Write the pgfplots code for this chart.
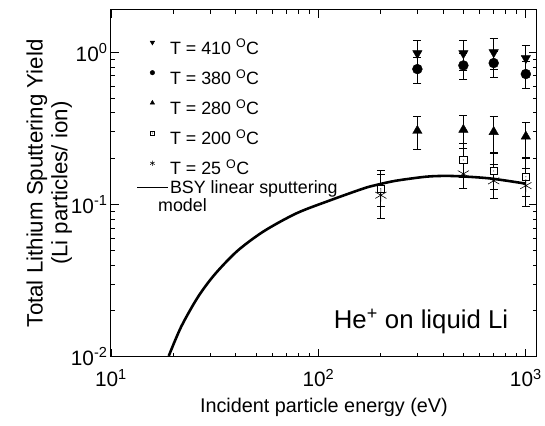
\documentclass[border=0pt]{standalone}
\usepackage{pgfplots}
\pgfplotsset{compat=1.18}
\usepackage{fontspec}
\setmainfont{Liberation Sans}
\newcommand{\ls}{\rule[-9pt]{0pt}{34pt}}
\pgfdeclareplotmark{sqdot}{%
  \pgfpathrectangle{\pgfpoint{-\pgfplotmarksize}{-\pgfplotmarksize}}{\pgfpoint{2\pgfplotmarksize}{2\pgfplotmarksize}}%
  \pgfusepathqfillstroke
  \begin{pgfscope}%
  \pgfsetfillcolor{black}%
  \pgfpathcircle{\pgfpointorigin}{0.5pt}%
  \pgfusepathqfill
  \end{pgfscope}%
}
\pgfplotsset{myerr/.style={error bars/.cd, y dir=both, y explicit,
    error bar style={line width=1pt, black},
    error mark options={rotate=90, line width=1pt, mark size=4pt, black}}}
\pgfplotstableread{
x y ep em
300 0.985 0.22 0.22
500 0.985 0.22 0.22
700 1.00 0.23 0.23
1000 0.915 0.20 0.20
}\tfourten
\pgfplotstableread{
x y ep em
300 0.776 0.15 0.15
500 0.82 0.16 0.16
700 0.85 0.17 0.17
1000 0.72 0.145 0.145
}\tthreeeighty
\pgfplotstableread{
x y ep em
300 0.305 0.075 0.075
500 0.31 0.075 0.075
700 0.30 0.08 0.08
1000 0.28 0.065 0.075
}\ttwoeighty
\pgfplotstableread{
x y ep em
200 0.127 0.03 0.03
500 0.196 0.055 0.045
700 0.166 0.05 0.04
1000 0.152 0.05 0.04
}\ttwohundred
\pgfplotstableread{
x y ep em
200 0.115 0.051 0.034
500 0.159 0.04 0.032
700 0.143 0.04 0.033
1000 0.133 0.04 0.036
}\ttwentyfive
\pgfplotstableread{
x y
19.0 0.0101
21.8 0.0157
26.2 0.0245
31.6 0.0346
40.7 0.0495
54.7 0.0668
78.5 0.0875
113 0.106
164 0.127
189 0.134
235 0.143
327 0.152
400 0.154
490 0.153
680 0.148
1000 0.137
}\bsy
\begin{document}
\begin{tikzpicture}
\begin{loglogaxis}[
  scale only axis,
  clip=false,
  width=430pt, height=350pt,
  xmin=10, xmax=1130,
  ymin=0.01, ymax=1.9,
  axis line style={line width=1pt},
  tick align=inside,
  major tick length=8pt,
  minor tick length=4pt,
  every tick/.style={black, line width=0.8pt},
  tick label style={font=\fontsize{21}{24}\selectfont},
  xticklabel style={yshift=-9pt},
  log number format basis/.code 2 args={#1\textsuperscript{\pgfmathprintnumber[assume math mode=true]{#2}}},
  xlabel={Incident particle energy (eV)},
  xlabel style={font=\fontsize{20}{23}\selectfont, yshift=-5pt},
  ylabel={Total Lithium Sputtering Yield\\(Li particles/ ion)},
  ylabel style={font=\fontsize{22.5}{25}\selectfont, align=center},
  ylabel shift=-8pt,
  legend style={at={(0.053,0.956)}, anchor=north west, draw=none, fill=none,
    font=\fontsize{18}{20}\selectfont},
  legend cell align=left,
]
\addplot[forget plot, only marks, black, mark=triangle*, mark size=5.5pt, mark options={rotate=180, fill=black}, myerr]
  table[x=x, y=y, y error plus=ep, y error minus=em]{\tfourten};
\addplot[forget plot, only marks, black, mark=*, mark size=5pt, mark options={fill=black}, myerr]
  table[x=x, y=y, y error plus=ep, y error minus=em]{\tthreeeighty};
\addplot[forget plot, only marks, black, mark=triangle*, mark size=5.5pt, mark options={fill=black}, myerr]
  table[x=x, y=y, y error plus=ep, y error minus=em]{\ttwoeighty};
\addplot[forget plot, only marks, black, mark=sqdot, mark size=3.8pt, mark options={fill=white, line width=0.6pt}, myerr]
  table[x=x, y=y, y error plus=ep, y error minus=em]{\ttwohundred};
\addplot[forget plot, only marks, black, mark=asterisk, mark size=6.5pt, mark options={line width=0.6pt}, myerr]
  table[x=x, y=y, y error plus=ep, y error minus=em]{\ttwentyfive};
\addplot[forget plot, black, line width=2.6pt, no marks, smooth]
  table[x=x, y=y]{\bsy};
\addlegendimage{only marks, black, mark=triangle*, mark size=2.6pt, mark options={rotate=180, fill=black}}
\addlegendentry{T = 410 \textsuperscript{O}C\ls}
\addlegendimage{only marks, black, mark=*, mark size=2.3pt, mark options={fill=black}}
\addlegendentry{T = 380 \textsuperscript{O}C\ls}
\addlegendimage{only marks, black, mark=triangle*, mark size=2.6pt, mark options={fill=black}}
\addlegendentry{T = 280 \textsuperscript{O}C\ls}
\addlegendimage{only marks, black, mark=sqdot, mark size=2.2pt, mark options={fill=white, line width=0.5pt}}
\addlegendentry{T = 200 \textsuperscript{O}C\ls}
\addlegendimage{only marks, black, mark=asterisk, mark size=2.6pt, mark options={line width=0.5pt}}
\addlegendentry{T = 25 \textsuperscript{O}C\ls}
\addlegendimage{black, line width=1pt, xshift=-0.24cm, xscale=1.8}
\addlegendentry{BSY linear sputtering}
\addlegendimage{empty legend}
\addlegendentry{\hspace*{-12pt}model}
\node[font=\fontsize{26}{28}\selectfont, anchor=center] at (rel axis cs:0.728,0.10) {He\textsuperscript{+} on liquid Li};
\path (rel axis cs:-0.2605,-0.2) (rel axis cs:1.007,1.0286);
\end{loglogaxis}
\end{tikzpicture}
\end{document}
